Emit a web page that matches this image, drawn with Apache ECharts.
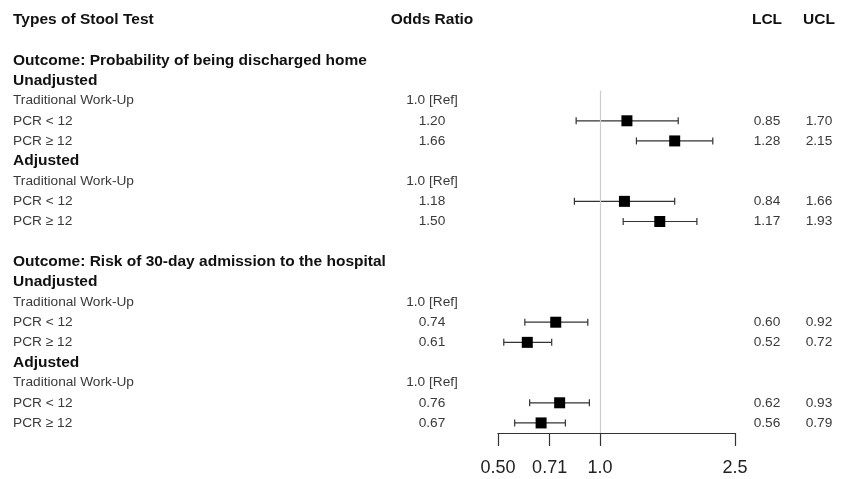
<!DOCTYPE html>
<html>
<head>
<meta charset="utf-8">
<script src="https://cdn.jsdelivr.net/npm/echarts@6/dist/echarts.min.js"></script>
<style>
  html, body { margin: 0; padding: 0; background: #fff; }
  #forest { width: 847px; height: 479px; }
</style>
</head>
<body>
<div id="forest"></div>
<script>
// rows of the forest table, top to bottom
const rowLabels = [
  'Types of Stool Test', '',
  'Outcome: Probability of being discharged home',
  'Unadjusted', 'Traditional Work-Up', 'PCR < 12', 'PCR \u2265 12',
  'Adjusted', 'Traditional Work-Up', 'PCR < 12', 'PCR \u2265 12',
  '',
  'Outcome: Risk of 30-day admission to the hospital',
  'Unadjusted', 'Traditional Work-Up', 'PCR < 12', 'PCR \u2265 12',
  'Adjusted', 'Traditional Work-Up', 'PCR < 12', 'PCR \u2265 12'
]
const boldRows = [0, 2, 3, 7, 12, 13, 17]
const refRows = [4, 8, 14, 18]

const oddsRatio = [null, null, null, null, 1.0, 1.20, 1.66, null, 1.0, 1.18, 1.50, null, null, null, 1.0, 0.74, 0.61, null, 1.0, 0.76, 0.67]
const lcl = [null, null, null, null, null, 0.85, 1.28, null, null, 0.84, 1.17, null, null, null, null, 0.60, 0.52, null, null, 0.62, 0.56]
const ucl = [null, null, null, null, null, 1.70, 2.15, null, null, 1.66, 1.93, null, null, null, null, 0.92, 0.72, null, null, 0.93, 0.79]

const tickValues = [0.5, 0.71, 1.0, 2.5]
const tickLabels = ['0.50', '0.71', '1.0', '2.5']

const FONT = '"Liberation Sans", Arial, Helvetica, sans-serif'

const fmt = v => (v == null ? '' : v.toFixed(2))

const orText = oddsRatio.map((v, i) => {
  if (i === 0) return 'Odds Ratio'
  if (refRows.includes(i)) return '1.0 [Ref]'
  return fmt(v)
})
const lclText = lcl.map((v, i) => (i === 0 ? 'LCL' : fmt(v)))
const uclText = ucl.map((v, i) => (i === 0 ? 'UCL' : fmt(v)))

const points = []
const bars = []
oddsRatio.forEach((v, i) => {
  if (v != null && !refRows.includes(i)) {
    points.push([v, i])
    bars.push([lcl[i], ucl[i], i])
  }
})

const richText = {
  b: { fontFamily: FONT, fontSize: 15.5, fontWeight: 'bold', color: '#111' },
  n: { fontFamily: FONT, fontSize: 13.7, color: '#3a3a3a' }
}

const labelAxis = (data, position, align, margin, boldFn) => ({
  type: 'category',
  position: position,
  inverse: true,
  data: data,
  axisLine: { show: false },
  axisTick: { show: false },
  splitLine: { show: false },
  axisLabel: {
    interval: 0,
    align: align,
    margin: margin,
    formatter: (value, idx) => (boldFn(idx) ? '{b|' + value + '}' : '{n|' + value + '}'),
    rich: richText
  }
})

const chart = echarts.init(document.getElementById('forest'))

chart.setOption({
  animation: false,
  backgroundColor: '#fff',
  grid: {
    left: 498,
    right: 112,
    top: 10,
    bottom: 46,
    outerBoundsMode: 'none',
    containLabel: false
  },
  xAxis: {
    type: 'log',
    logBase: 2,
    min: 0.5,
    max: 2.5,
    axisLine: { show: true, onZero: false, lineStyle: { color: '#333', width: 1.2 } },
    axisTick: { show: true, length: 13, customValues: tickValues, lineStyle: { color: '#333', width: 1.2 } },
    axisLabel: {
      customValues: tickValues,
      margin: 26,
      fontFamily: FONT,
      fontSize: 18,
      color: '#222',
      formatter: v => {
        const k = tickValues.findIndex(t => Math.abs(t - v) < 1e-6)
        return k >= 0 ? tickLabels[k] : ''
      }
    },
    splitLine: { show: false }
  },
  yAxis: [
    { type: 'value', inverse: true, min: -0.5, max: 20.5, show: false },
    labelAxis(rowLabels, 'left', 'left', 485, i => boldRows.includes(i)),
    labelAxis(orText, 'left', 'center', 66, i => i === 0),
    labelAxis(lclText, 'right', 'center', 32, i => i === 0),
    labelAxis(uclText, 'right', 'center', 84, i => i === 0)
  ],
  series: [
    {
      name: 'CI',
      type: 'custom',
      yAxisIndex: 0,
      encode: { x: [0, 1], y: 2 },
      data: bars,
      renderItem: (params, api) => {
        const lo = api.coord([api.value(0), api.value(2)])
        const hi = api.coord([api.value(1), api.value(2)])
        const cap = 3.5
        const style = { stroke: '#333', lineWidth: 1.2 }
        return {
          type: 'group',
          children: [
            { type: 'line', shape: { x1: lo[0], y1: lo[1], x2: hi[0], y2: hi[1] }, style: style },
            { type: 'line', shape: { x1: lo[0], y1: lo[1] - cap, x2: lo[0], y2: lo[1] + cap }, style: style },
            { type: 'line', shape: { x1: hi[0], y1: hi[1] - cap, x2: hi[0], y2: hi[1] + cap }, style: style }
          ]
        }
      },
      z: 2
    },
    {
      name: 'Odds Ratio',
      type: 'scatter',
      yAxisIndex: 0,
      symbol: 'rect',
      symbolSize: 11,
      itemStyle: { color: '#000', opacity: 1 },
      data: points,
      z: 3,
      markLine: {
        silent: true,
        symbol: 'none',
        label: { show: false },
        lineStyle: { color: '#cdcdcd', type: 'solid', width: 1.2, opacity: 1 },
        data: [[{ coord: [1.0, 3.5] }, { coord: [1.0, 20.5] }]]
      }
    }
  ]
})
</script>
</body>
</html>
